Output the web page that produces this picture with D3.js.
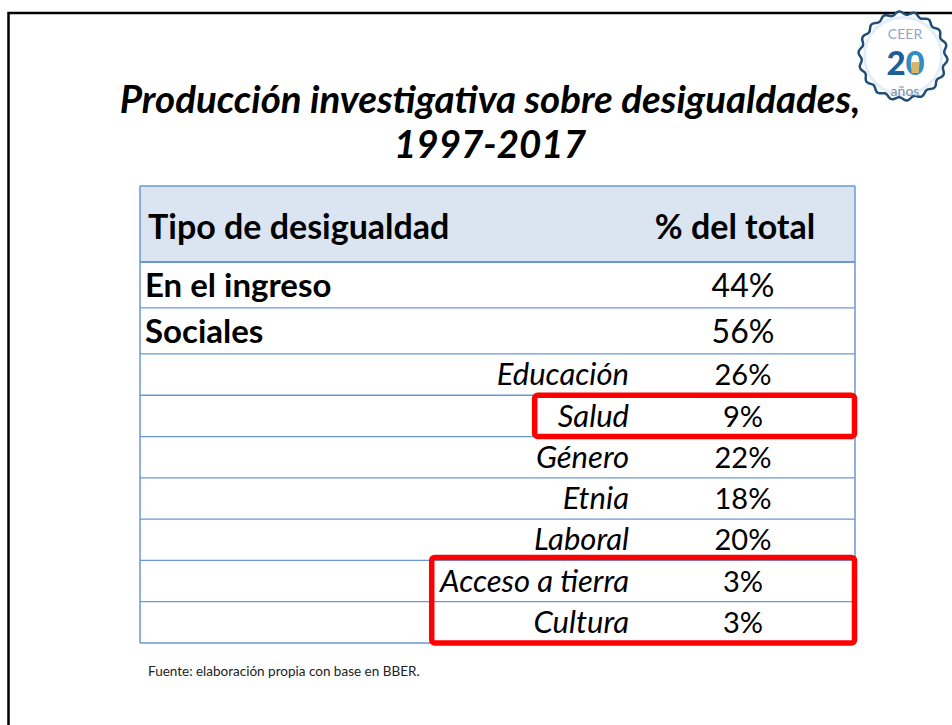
<!DOCTYPE html>
<html>
<head>
<meta charset="utf-8">
<script src="https://cdn.jsdelivr.net/npm/d3@7"></script>
<style>
  html, body { margin: 0; padding: 0; background: #fff; }
  svg { display: block; }
  text { font-family: Lato, "Open Sans", sans-serif; }
</style>
</head>
<body>
<svg id="chart" width="952" height="725"></svg>
<script>
// ---- data ----
const titleLines = ["Producción investigativa sobre desigualdades,", "1997-2017"];
const headerLabels = ["Tipo de desigualdad", "% del total"];
const categories = ["En el ingreso", "Sociales", "Educación", "Salud", "Género", "Etnia", "Laboral", "Acceso a tierra", "Cultura"];
const values = [44, 56, 26, 9, 22, 18, 20, 3, 3];
const levels = ["main", "main", "sub", "sub", "sub", "sub", "sub", "sub", "sub"];
const highlightGroups = [["Salud"], ["Acceso a tierra", "Cultura"]];
const sourceNote = "Fuente: elaboración propia con base en BBER.";

// ---- layout ----
const svg = d3.select("#chart");
const W = 952, H = 725;
const rowWeight = { header: 76, main: 46, sub: 41.3 };
const rows = [{ key: "__header", level: "header" }].concat(
  categories.map((c, i) => ({ key: c, level: levels[i], value: values[i] }))
);
let acc = 0;
rows.forEach(r => { r.y0 = acc; acc += rowWeight[r.level]; r.y1 = acc; });
const y = d3.scaleLinear().domain([0, acc]).range([186, 643]);
const x = d3.scaleLinear().domain([0, 1]).range([140, 855]);
const pct = d3.format(".0%");

// slide frame
svg.append("rect").attr("x", 8.5).attr("y", 13).attr("width", W + 20).attr("height", H + 20)
  .attr("fill", "none").attr("stroke", "#000").attr("stroke-width", 2.5);

// title
svg.append("g").selectAll("text").data(titleLines).join("text")
  .attr("x", 490).attr("y", (d, i) => 113 + i * 45)
  .attr("text-anchor", "middle")
  .attr("font-size", 38.5).attr("font-weight", 700).attr("font-style", "italic")
  .attr("fill", "#000").text(d => d);

// logo
const logo = svg.append("g").attr("transform", "translate(903,56)");
const wave = d3.range(0, 361, 2).map(a => {
  const t = a * Math.PI / 180;
  const r = 43 + 1.6 * Math.sin(18 * t);
  return [r * Math.cos(t), r * Math.sin(t)];
});
logo.append("path").attr("d", d3.line().curve(d3.curveCardinalClosed)(wave))
  .attr("fill", "#fff").attr("stroke", "#1f4e79").attr("stroke-width", 2.5);
logo.append("circle").attr("r", 38.5).attr("fill", "none").attr("stroke", "#e3edf7").attr("stroke-width", 3);
logo.append("text").attr("x", 2).attr("y", -17).attr("text-anchor", "middle")
  .attr("font-family", "'Liberation Serif', serif").attr("font-size", 14)
  .attr("fill", "#8ea8c6").text("CEER");
logo.append("g").attr("transform", "translate(2,19)")
  .call(g => {
    g.append("text").attr("x", -9).attr("y", 0).attr("text-anchor", "middle")
      .attr("font-size", 33).attr("font-weight", 900).attr("fill", "#1d5f96").text("2");
    g.append("text").attr("x", 10).attr("y", 0).attr("text-anchor", "middle")
      .attr("font-size", 33).attr("font-weight", 900).attr("fill", "#2f8fc4").text("0");
    g.append("rect").attr("x", 6.5).attr("y", -13).attr("width", 7.5).attr("height", 11)
      .attr("fill", "#d9b56a");
  });
logo.append("text").attr("x", 2).attr("y", 40).attr("text-anchor", "middle")
  .attr("font-size", 14).attr("fill", "#7d90a8").text("años");

// table
const table = svg.append("g");
table.append("rect").attr("x", x(0)).attr("y", y(rows[0].y0))
  .attr("width", x(1) - x(0)).attr("height", y(rows[0].y1) - y(rows[0].y0))
  .attr("fill", "#dbe5f1");
table.selectAll("line.h").data(rows).join("line").attr("class", "h")
  .attr("x1", x(0)).attr("x2", x(1))
  .attr("y1", d => y(d.y1)).attr("y2", d => y(d.y1))
  .attr("stroke", "#6b97d6").attr("stroke-width", (d, i) => i === 0 ? 2 : 1.3);
table.append("line").attr("x1", x(0)).attr("x2", x(1)).attr("y1", y(0)).attr("y2", y(0))
  .attr("stroke", "#6b97d6").attr("stroke-width", 1.5);
[0, 1].forEach(v => table.append("line").attr("x1", x(v)).attr("x2", x(v))
  .attr("y1", y(0)).attr("y2", y(acc)).attr("stroke", "#6b97d6").attr("stroke-width", 1.5));

// header text
table.append("text").attr("x", x(0) + 8).attr("y", y(rows[0].y1) - 23)
  .attr("font-size", 34).attr("font-weight", 700).text(headerLabels[0]);
table.append("text").attr("x", 735).attr("y", y(rows[0].y1) - 23).attr("text-anchor", "middle")
  .attr("font-size", 34).attr("font-weight", 700).text(headerLabels[1]);

const body = rows.slice(1);
table.selectAll("text.lab").data(body).join("text").attr("class", "lab")
  .attr("x", d => d.level === "main" ? x(0) + 5 : 629)
  .attr("y", d => y(d.y1) - (d.level === "main" ? 11 : 10))
  .attr("text-anchor", d => d.level === "main" ? "start" : "end")
  .attr("font-size", d => d.level === "main" ? 33 : 31)
  .attr("font-weight", d => d.level === "main" ? 700 : 400)
  .attr("font-style", d => d.level === "main" ? "normal" : "italic")
  .text(d => d.key);
table.selectAll("text.val").data(body).join("text").attr("class", "val")
  .attr("x", 743)
  .attr("y", d => y(d.y1) - (d.level === "main" ? 11 : 10))
  .attr("text-anchor", "middle")
  .attr("font-size", d => d.level === "main" ? 32 : 29)
  .text(d => pct(d.value / 100));

// highlights
const hlLeft = [0.552, 0.408];
const hlTopPad = [0, 3];
highlightGroups.forEach((g, gi) => {
  const rs = body.filter(r => g.includes(r.key));
  const top = y(d3.min(rs, r => r.y0)) - hlTopPad[gi];
  const bot = y(d3.max(rs, r => r.y1));
  svg.append("rect").attr("x", x(hlLeft[gi])).attr("y", top)
    .attr("width", 854.5 - x(hlLeft[gi])).attr("height", bot - top)
    .attr("rx", 3).attr("fill", "none").attr("stroke", "#ff0000").attr("stroke-width", 5.5);
});

// source
svg.append("text").attr("x", 148).attr("y", 676).attr("font-size", 13.5)
  .attr("fill", "#222").text(sourceNote);
</script>
</body>
</html>
